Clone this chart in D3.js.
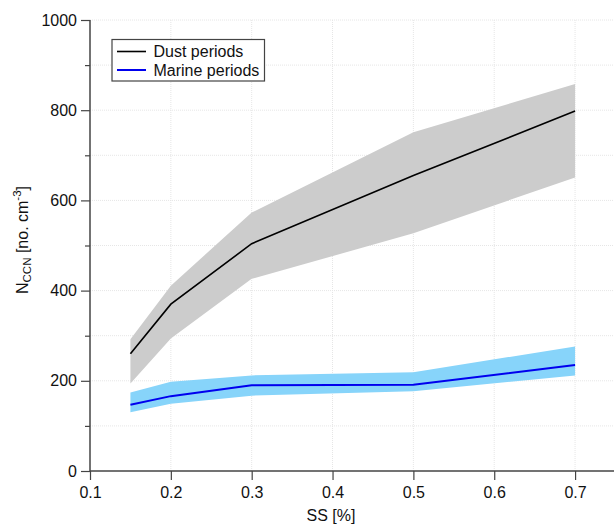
<!DOCTYPE html>
<html><head><meta charset="utf-8">
<script src="https://cdn.jsdelivr.net/npm/d3@7"></script>
<style>body{margin:0;background:#fff;} text{font-family:"Liberation Sans",Arial,sans-serif;}</style>
</head><body>
<svg id="c" width="614" height="527"></svg>
<script>
const ss = [0.15, 0.2, 0.3, 0.5, 0.7];
const dustMean = [260, 370, 504, 655, 798];
const dustUpper = [292, 411, 573, 751, 858];
const dustLower = [194, 294, 426, 527, 651];
const marineMean = [147, 166, 190, 191, 235];
const marineUpper = [174, 198, 212, 219, 276];
const marineLower = [130, 149, 167, 177, 212];
const xTicks = [0.1, 0.2, 0.3, 0.4, 0.5, 0.6, 0.7];
const yTicks = [0, 200, 400, 600, 800, 1000];
const yMinor = [100, 300, 500, 700, 900];
const seriesNames = ["Dust periods", "Marine periods"];

const svg = d3.select("#c");
const x = d3.scaleLinear().domain([0.1, 0.75]).range([90, 615.5]);
const y = d3.scaleLinear().domain([0, 1000]).range([471, 20]);
const axisCol = "#444";
const fs = 16;

// grid
const grid = svg.append("g").attr("stroke", "#e6e6e6").attr("stroke-width", 1).attr("stroke-dasharray", "1,1");
d3.range(100, 1001, 100).forEach(v => grid.append("line").attr("x1", 90).attr("x2", 614).attr("y1", y(v)).attr("y2", y(v)));
xTicks.slice(1).forEach(v => grid.append("line").attr("x1", x(v)).attr("x2", x(v)).attr("y1", 20).attr("y2", 471));

// bands
const area = (lo, hi) => d3.area().x((d, i) => x(ss[i])).y0((d, i) => y(lo[i])).y1((d, i) => y(hi[i]))(ss);
svg.append("path").attr("d", area(dustLower, dustUpper)).attr("fill", "#cccccc");
svg.append("path").attr("d", area(marineLower, marineUpper)).attr("fill", "#87d4fa");
const line = vals => d3.line().x((d, i) => x(ss[i])).y((d, i) => y(vals[i]))(ss);
svg.append("path").attr("d", line(dustMean)).attr("fill", "none").attr("stroke", "#000").attr("stroke-width", 1.6);
svg.append("path").attr("d", line(marineMean)).attr("fill", "none").attr("stroke", "#0000ee").attr("stroke-width", 2);

// axes
const xa = svg.append("g").attr("transform", "translate(0,471)")
  .call(d3.axisBottom(x).tickValues(xTicks).tickFormat(d3.format(".1f")).tickSize(9).tickPadding(7));
const ya = svg.append("g").attr("transform", "translate(90,0)")
  .call(d3.axisLeft(y).tickValues(yTicks).tickFormat(d3.format("d")).tickSize(9).tickPadding(4));
svg.append("g").attr("transform", "translate(90,0)")
  .call(d3.axisLeft(y).tickValues(yMinor).tickFormat("").tickSize(5)).select(".domain").remove();
svg.selectAll(".domain").attr("stroke", axisCol).attr("stroke-width", 1.5);
svg.selectAll(".tick line").attr("stroke", axisCol).attr("stroke-width", 1.2);
[xa, ya].forEach(a => a.selectAll("text").attr("font-size", fs).attr("fill", "#111")
  .attr("font-family", "'Liberation Sans',Arial,sans-serif"));
xa.select(".domain").attr("d", "M90,0H614");
ya.select(".domain").attr("d", "M0,471V20");

// axis labels
svg.append("text").attr("x", 331).attr("y", 521).attr("text-anchor", "middle").attr("font-size", fs).attr("fill", "#111").text("SS [%]");
const yl = svg.append("text").attr("transform", "translate(28,240) rotate(-90)").attr("text-anchor", "middle").attr("font-size", fs).attr("fill", "#111");
yl.append("tspan").text("N");
yl.append("tspan").attr("font-size", 11.5).attr("dy", 3).text("CCN");
yl.append("tspan").attr("dy", -3).text(" [no. cm");
yl.append("tspan").attr("font-size", 11.5).attr("dy", -7).text("-3");
yl.append("tspan").attr("dy", 7).text("]");

// legend
const lg = svg.append("g");
lg.append("rect").attr("x", 112).attr("y", 39.5).attr("width", 152.5).attr("height", 41.5).attr("fill", "#fff").attr("stroke", "#444").attr("stroke-width", 1.2);
const lcols = ["#000", "#0000ee"];
seriesNames.forEach((n, i) => {
  const yy = 51.5 + i * 18.5;
  lg.append("line").attr("x1", 117).attr("x2", 146).attr("y1", yy).attr("y2", yy).attr("stroke", lcols[i]).attr("stroke-width", i ? 2 : 1.6);
  lg.append("text").attr("x", 153.5).attr("y", yy + 5.5).attr("font-size", fs).attr("fill", "#111").text(n);
});
</script>
</body></html>
